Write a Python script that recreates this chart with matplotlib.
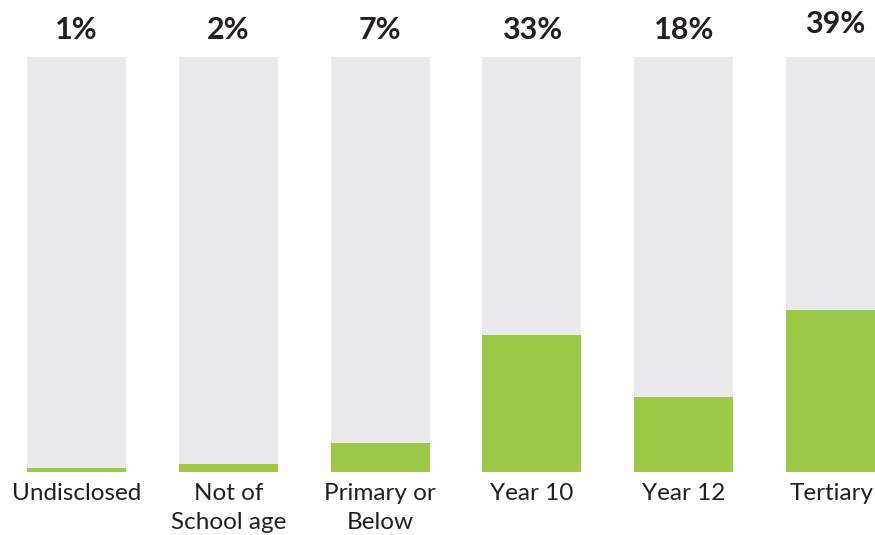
import numpy as np
import matplotlib.pyplot as plt

categories = ["Undisclosed", "Not of\nSchool age", "Primary or\nBelow", "Year 10", "Year 12", "Tertiary"]
shares = [1, 2, 7, 33, 18, 39]
pct_labels = ["1%", "2%", "7%", "33%", "18%", "39%"]

# small nudges for the last column, which sits against the right edge
pct_lift = [0, 0, 0, 0, 0, 4]
cat_shift = [0, 0, 0, 0, 0, -3]

plt.rcParams['font.family'] = ['Lato', 'DejaVu Sans']

fig = plt.figure(figsize=(8.75, 5.35), dpi=100)
ax = fig.add_axes([0, 0.1178, 1, 0.7757])

x = np.arange(len(categories))
ax.bar(x, [100] * len(x), width=0.652, color="#eaeaec", linewidth=0)
ax.bar(x, shares, width=0.652, color="#9bc945", linewidth=0)

for i, (cat, lab) in enumerate(zip(categories, pct_labels)):
    ax.annotate(lab, (i, 100), xytext=(0, 13 + pct_lift[i]), textcoords="offset points",
                ha="center", va="baseline", fontsize=22, fontweight="bold",
                color="#231f20")
    ax.annotate(cat, (i, 0), xytext=(cat_shift[i], -8), textcoords="offset points",
                ha="center", va="top", fontsize=17.5, color="#231f20",
                linespacing=1.45, annotation_clip=False)

ax.set_xlim(-0.504, 5.26)
ax.set_ylim(0, 100)
ax.axis("off")

fig.savefig("out.png", dpi=100)
